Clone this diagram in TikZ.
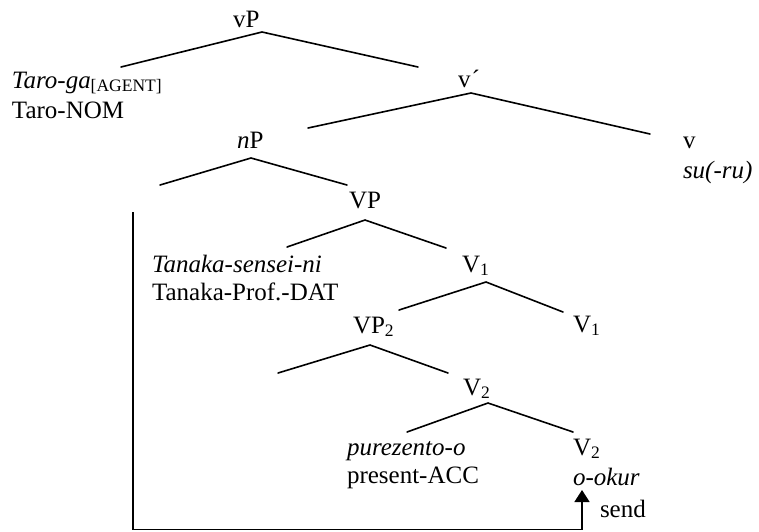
\documentclass[tikz,border=0pt]{standalone}
\usepackage{fontspec}
\setmainfont{Liberation Serif}
\usetikzlibrary{arrows.meta}
\tikzset{
  lbl/.style={anchor=base west, inner sep=0pt, outer sep=0pt,
              font=\fontsize{25}{30}\selectfont},
  branch/.style={line width=1.6pt, line cap=round},
  movearrow/.style={line width=1.6pt, -{Triangle[width=15pt,length=12pt]}}
}
\begin{document}
\begin{tikzpicture}[x=1pt,y=-1pt]
\useasboundingbox (0,0) rectangle (759,531);

% category labels and words
\node[lbl] (vP)     at (233,27)  {vP};
\node[lbl] (taro)   at (12,88)   {\textit{Taro-ga}\textsubscript{[AGENT]}};
\node[lbl] (taroG)  at (12,118)  {Taro-NOM};
\node[lbl] (vbar)   at (458,87)  {v\kern1pt´};
\node[lbl] (nP)     at (237,148) {\textit{n}P};
\node[lbl] (vhead)  at (683,148) {v};
\node[lbl] (suru)   at (683,178) {\textit{su(-ru)}};
\node[lbl] (VP)     at (349,208) {VP};
\node[lbl] (tanaka) at (152,272) {\textit{Tanaka-sensei-ni}};
\node[lbl] (tanakaG)at (152,300) {Tanaka-Prof.-DAT};
\node[lbl] (Vone)   at (462,272) {V\textsubscript{1}};
\node[lbl] (VPtwo)  at (353,333) {VP\textsubscript{2}};
\node[lbl] (Vonehd) at (573,332) {V\textsubscript{1}};
\node[lbl] (Vtwo)   at (463,395) {V\textsubscript{2}};
\node[lbl] (pure)   at (347,455) {\textit{purezento-o}};
\node[lbl] (pureG)  at (347,483) {present-ACC};
\node[lbl] (Vtwohd) at (573,455) {V\textsubscript{2}};
\node[lbl] (okur)   at (573,485) {\textit{o-okur}};
\node[lbl] (send)   at (600,517) {send};

% branch end points
\coordinate (a1) at (262,32);  \coordinate (a1l) at (121,67);  \coordinate (a1r) at (418,67);
\coordinate (a2) at (471,93);  \coordinate (a2l) at (308,128); \coordinate (a2r) at (650,134);
\coordinate (a3) at (251,158); \coordinate (a3l) at (160,185); \coordinate (a3r) at (347,185);
\coordinate (a4) at (365,220); \coordinate (a4l) at (287,247); \coordinate (a4r) at (446,248);
\coordinate (a5) at (486,282); \coordinate (a5l) at (399,310); \coordinate (a5r) at (563,312);
\coordinate (a6) at (370,345); \coordinate (a6l) at (278,373); \coordinate (a6r) at (448,373);
\coordinate (a7) at (488,403); \coordinate (a7l) at (407,432); \coordinate (a7r) at (573,432);

\foreach \n in {1,...,7}{
  \draw[branch] (a\n l) -- (a\n) -- (a\n r);
}

% movement path from the empty specifier to the verb
\coordinate (mtop)  at (133,212);
\coordinate (mbl)   at (133,529.5);
\coordinate (mbr)   at (582,529.5);
\coordinate (mtip)  at (582,490);
\draw[movearrow] (mtop) -- (mbl) -- (mbr) -- (mtip);
\end{tikzpicture}
\end{document}
